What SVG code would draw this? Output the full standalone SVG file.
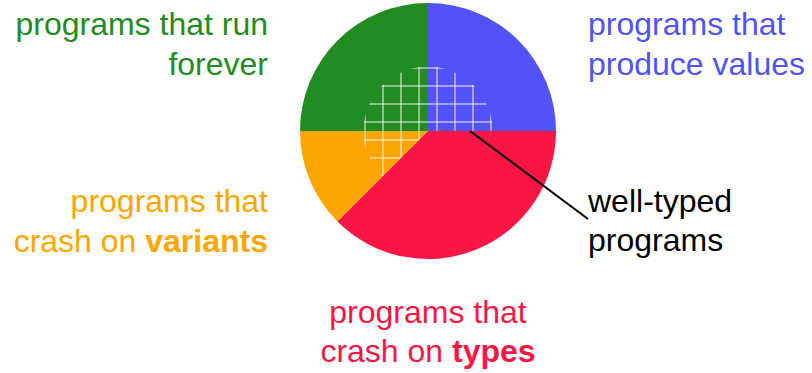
<svg xmlns="http://www.w3.org/2000/svg" width="812" height="373" viewBox="0 0 812 373">
  <style>
    text { font-family: "Liberation Sans", Arial, Helvetica, sans-serif; font-size: 32px; }
    .forever { fill: #228b22; }
    .values { fill: #5252f8; }
    .variants { fill: #ffa500; }
    .types { fill: #f91644; }
    .label { fill: #000000; }
    .grid line { stroke: #ffffff; stroke-width: 1.5; stroke-opacity: 0.62; }
    .pointer { stroke: #000000; stroke-width: 2; fill: none; }
    .bold { font-weight: bold; }
  </style>
  <defs>
    <clipPath id="wellTypedClip">
      <circle cx="428" cy="131" r="64.5"/>
    </clipPath>
  </defs>

  <!-- pie slices -->
  <g id="slice-forever">
    <path class="forever" d="M428,131 L428,3 A128,128 0 0 0 300,131 Z"/>
  </g>
  <g id="slice-values">
    <path class="values" d="M428,131 L428,3 A128,128 0 0 1 556,131 Z"/>
  </g>
  <g id="slice-variants">
    <path class="variants" d="M428,131 L337.49,221.51 A128,128 0 0 1 300,131 Z"/>
  </g>

  <!-- hatched region: well-typed programs -->
  <g id="well-typed-region" class="grid" clip-path="url(#wellTypedClip)">
    <line x1="365" y1="60" x2="365" y2="200"/>
    <line x1="383" y1="60" x2="383" y2="200"/>
    <line x1="401" y1="60" x2="401" y2="200"/>
    <line x1="419" y1="60" x2="419" y2="200"/>
    <line x1="437" y1="60" x2="437" y2="200"/>
    <line x1="455" y1="60" x2="455" y2="200"/>
    <line x1="473" y1="60" x2="473" y2="200"/>
    <line x1="491" y1="60" x2="491" y2="200"/>
    <line x1="355" y1="68" x2="500" y2="68"/>
    <line x1="355" y1="86" x2="500" y2="86"/>
    <line x1="355" y1="104" x2="500" y2="104"/>
    <line x1="355" y1="122" x2="500" y2="122"/>
    <line x1="355" y1="140" x2="500" y2="140"/>
    <line x1="355" y1="158" x2="500" y2="158"/>
    <line x1="355" y1="176" x2="500" y2="176"/>
  </g>

  <g id="slice-types">
    <path class="types" d="M428,131 L556,131 A128,128 0 0 1 337.49,221.51 Z"/>
  </g>

  <!-- connectors -->
  <g id="connectors">
    <line class="pointer" x1="470" y1="131" x2="588" y2="219"/>
  </g>

  <!-- labels -->
  <g id="label-forever">
    <text class="forever" x="268" y="35" text-anchor="end">programs that run</text>
    <text class="forever" x="268" y="75" text-anchor="end">forever</text>
  </g>
  <g id="label-values">
    <text class="values" x="588" y="35">programs that</text>
    <text class="values" x="588" y="75">produce values</text>
  </g>
  <g id="label-variants">
    <text class="variants" x="268" y="212" text-anchor="end">programs that</text>
    <text class="variants" x="268" y="252" text-anchor="end">crash on <tspan class="bold">variants</tspan></text>
  </g>
  <g id="label-well-typed">
    <text class="label" x="588" y="212">well-typed</text>
    <text class="label" x="588" y="251">programs</text>
  </g>
  <g id="label-types">
    <text class="types" x="428" y="323" text-anchor="middle">programs that</text>
    <text class="types" x="428" y="362" text-anchor="middle">crash on <tspan class="bold">types</tspan></text>
  </g>
</svg>
